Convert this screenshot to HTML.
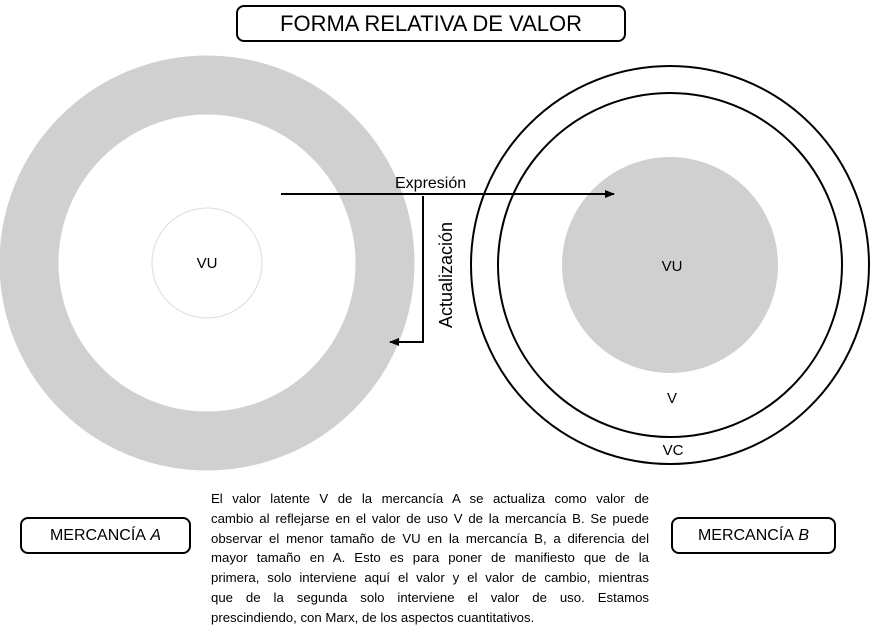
<!DOCTYPE html>
<html><head><meta charset="utf-8"><style>
body{margin:0;width:870px;height:635px;background:#fff;position:relative;overflow:hidden;font-family:"Liberation Sans",sans-serif;color:#000}
.box{position:absolute;border:2px solid #000;border-radius:8px;box-sizing:border-box;display:flex;align-items:center;justify-content:center}
.p{position:absolute;left:211px;top:489px;width:438px;margin:0;font-size:13.2px;line-height:19.8px}
.p span{display:block;text-align:justify;text-align-last:justify;white-space:nowrap}
.p span.l{text-align-last:left}
</style></head><body>
<svg width="870" height="635" style="position:absolute;left:0;top:0">
<defs><marker id="a" markerWidth="10" markerHeight="8" refX="9" refY="4" orient="auto" markerUnits="userSpaceOnUse"><path d="M0,0 L10,4 L0,8 z"/></marker></defs>
<circle cx="207" cy="263" r="178" fill="none" stroke="#d1d0d0" stroke-width="59"/>
<circle cx="207" cy="263" r="55" fill="#fff" stroke="#ddd" stroke-width="1"/>
<circle cx="670" cy="265" r="199" fill="none" stroke="#000" stroke-width="2"/>
<circle cx="670" cy="265" r="172" fill="none" stroke="#000" stroke-width="2"/>
<circle cx="670" cy="265" r="108" fill="#d1d0d0"/>
<line x1="281" y1="194" x2="614" y2="194" stroke="#000" stroke-width="2" marker-end="url(#a)"/>
<polyline points="423,196 423,342 390,342" fill="none" stroke="#000" stroke-width="2" marker-end="url(#a)"/>
<text x="395" y="188" font-size="16" font-family="Liberation Sans">Expresión</text>
<text transform="translate(452,328) rotate(-90)" font-size="18" font-family="Liberation Sans">Actualización</text>
<text x="207" y="268" font-size="15" text-anchor="middle">VU</text>
<text x="672" y="271" font-size="15" text-anchor="middle">VU</text>
<text x="672" y="403" font-size="15" text-anchor="middle">V</text>
<text x="673" y="455" font-size="15" text-anchor="middle">VC</text>
</svg>
<div class="box" style="left:236px;top:5px;width:390px;height:37px;font-size:22px">FORMA RELATIVA DE VALOR</div>
<div class="box" style="left:20px;top:517px;width:171px;height:37px;font-size:16px">MERCANCÍA&nbsp;<i>A</i></div>
<div class="box" style="left:671px;top:517px;width:165px;height:37px;font-size:16px">MERCANCÍA&nbsp;<i>B</i></div>
<div class="p">
<span>El valor latente V de la mercancía A se actualiza como valor de</span>
<span>cambio al reflejarse en el valor de uso V de la mercancía B. Se puede</span>
<span>observar el menor tamaño de VU en la mercancía B, a diferencia del</span>
<span>mayor tamaño en A. Esto es para poner de manifiesto que de la</span>
<span>primera, solo interviene aquí el valor y el valor de cambio, mientras</span>
<span>que de la segunda solo interviene el valor de uso. Estamos</span>
<span class="l">prescindiendo, con Marx, de los aspectos cuantitativos.</span>
</div>
</body></html>
